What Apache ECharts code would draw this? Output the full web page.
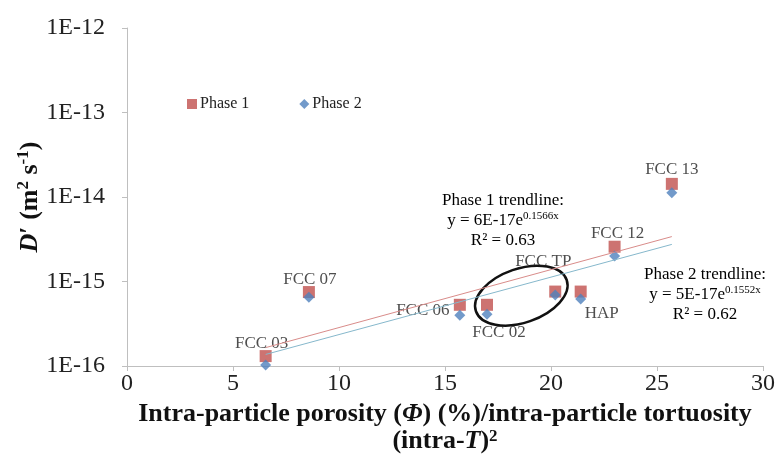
<!DOCTYPE html>
<html><head><meta charset="utf-8">
<script src="https://cdn.jsdelivr.net/npm/echarts@6/dist/echarts.min.js"></script>
<style>html,body{margin:0;padding:0;background:#fff}#c{width:778px;height:470px}</style>
</head><body><div id="c"></div>
<script>
// ---- data ----
const samples = ['FCC 03', 'FCC 07', 'FCC 06', 'FCC 02', 'FCC TP', 'HAP', 'FCC 12', 'FCC 13'];
const xValues = [6.54, 8.58, 15.7, 16.98, 20.2, 21.4, 23.0, 25.7];
const phase1 = [1.31e-16, 7.5e-16, 5.3e-16, 5.3e-16, 7.6e-16, 7.6e-16, 2.58e-15, 1.43e-14];
const phase2 = [1.03e-16, 6.5e-16, 4.0e-16, 4.1e-16, 6.9e-16, 6.2e-16, 2.0e-15, 1.12e-14];
const trend1X = [6.54, 25.7];
const trend1Y = [1.65e-16, 3.4e-15];
const trend2X = [6.54, 25.7];
const trend2Y = [1.37e-16, 2.75e-15];
const xTicks = [0, 5, 10, 15, 20, 25, 30];
const yTickLabels = ['1E-16', '1E-15', '1E-14', '1E-13', '1E-12'];
const seriesNames = ['Phase 1', 'Phase 2'];

// ---- styles ----
const FONT = '"Liberation Serif", "Times New Roman", serif';
const labelOffsets = {
  'FCC 03': [-4, -13], 'FCC 07': [1, -13], 'FCC 06': [-37, 6], 'FCC 02': [12, 28],
  'FCC TP': [-12, -30], 'HAP': [21, 22], 'FCC 12': [3, -13], 'FCC 13': [0, -14]
};

const chart = echarts.init(document.getElementById('c'));
const red = '#c0504d', blue = '#4f81bd';

const option = {
  animation: false,
  backgroundColor: '#fff',
  grid: { left: 127, right: 15, top: 28, bottom: 104 },
  legend: {
    left: 182, top: 91, itemWidth: 10, itemHeight: 10, itemGap: 50,
    textStyle: { fontFamily: FONT, fontSize: 16, color: '#222', padding: [0, 0, 0, -2] },
    data: [{ name: seriesNames[0], icon: 'rect' }, { name: seriesNames[1], icon: 'diamond' }]
  },
  xAxis: {
    type: 'value', min: xTicks[0], max: xTicks[xTicks.length - 1], interval: 5,
    axisLine: { lineStyle: { color: '#bfbfbf', width: 1 } },
    axisTick: { show: true, length: 5, lineStyle: { color: '#bfbfbf' } },
    splitLine: { show: false },
    axisLabel: { fontFamily: FONT, fontSize: 24, color: '#222', margin: 6 },
    name: '{b|Intra-particle porosity (}{bi|Φ}{b|) (%)/intra-particle tortuosity}\n{b|(intra-}{bi|T}{b|)}{sup|2}',
    nameLocation: 'middle', nameGap: 22,
    nameTextStyle: {
      fontFamily: FONT, fontSize: 26, fontWeight: 'bold', color: '#111', verticalAlign: 'top', lineHeight: 27,
      rich: {
        b: { fontFamily: FONT, fontSize: 26, fontWeight: 'bold', color: '#111', lineHeight: 27 },
        bi: { fontFamily: FONT, fontSize: 26, fontWeight: 'bold', fontStyle: 'italic', color: '#111', lineHeight: 27 },
        sup: { fontFamily: FONT, fontSize: 17, fontWeight: 'bold', color: '#111', verticalAlign: 'top', lineHeight: 27, padding: [0, 0, 8, 0] }
      }
    }
  },
  yAxis: {
    type: 'log', logBase: 10, min: 1e-16, max: 1e-12,
    axisLine: { show: true, lineStyle: { color: '#bfbfbf', width: 1 } },
    axisTick: { show: true, length: 5, lineStyle: { color: '#bfbfbf' } },
    splitLine: { show: false },
    minorTick: { show: false },
    axisLabel: {
      fontFamily: FONT, fontSize: 24, color: '#222', margin: 22,
      formatter: v => yTickLabels[Math.round(Math.log10(v)) + 16]
    }
  },
  series: [
    {
      name: 'Phase 1 trend', type: 'line', silent: true, symbol: 'none',
      lineStyle: { color: '#d98c8a', width: 1 },
      data: trend1X.map((x, i) => [x, trend1Y[i]])
    },
    {
      name: 'Phase 2 trend', type: 'line', silent: true, symbol: 'none',
      lineStyle: { color: '#86b8cc', width: 1 },
      data: trend2X.map((x, i) => [x, trend2Y[i]])
    },
    {
      name: seriesNames[0], type: 'scatter', symbol: 'rect', symbolSize: 12,
      itemStyle: { color: red },
      label: { show: true, position: 'inside', fontFamily: FONT, fontSize: 17, color: '#222',
               formatter: p => samples[p.dataIndex] },
      data: xValues.map((x, i) => ({ value: [x, phase1[i]], label: { offset: labelOffsets[samples[i]] } }))
    },
    {
      name: seriesNames[1], type: 'scatter', symbol: 'diamond', symbolSize: 11,
      itemStyle: { color: blue },
      data: xValues.map((x, i) => [x, phase2[i]])
    }
  ]
};
chart.setOption(option);

const richEq = {
  t: { fontFamily: FONT, fontSize: 17, color: '#222', lineHeight: 20 },
  sup: { fontFamily: FONT, fontSize: 11, color: '#222', verticalAlign: 'top', lineHeight: 20, padding: [0, 0, 6, 0] }
};
const c = chart.convertToPixel({ gridIndex: 0 }, [18.6, 6.8e-16]);
const mid = chart.convertToPixel({ gridIndex: 0 }, [0, 1e-14]);
chart.setOption({
  graphic: [
    {
      type: 'text', x: 30, y: mid[1], rotation: Math.PI / 2,
      style: {
        text: '{i|D}{b|′ (m}{sup|2}{b| s}{sup|-1}{b|)}', align: 'center', verticalAlign: 'middle',
        rich: {
          i: { fontFamily: FONT, fontSize: 26, fontWeight: 'bold', fontStyle: 'italic', fill: '#111', lineHeight: 30 },
          b: { fontFamily: FONT, fontSize: 26, fontWeight: 'bold', fill: '#111', lineHeight: 30 },
          sup: { fontFamily: FONT, fontSize: 17, fontWeight: 'bold', fill: '#111', verticalAlign: 'top', lineHeight: 30, padding: [0, 0, 9, 0] }
        }
      }
    },
    {
      type: 'text', x: 503, y: 191,
      style: { text: '{t|Phase 1 trendline:}\n{t|y = 6E-17e}{sup|0.1566x}\n{t|R² = 0.63}', align: 'center', rich: richEq }
    },
    {
      type: 'text', x: 705, y: 265,
      style: { text: '{t|Phase 2 trendline:}\n{t|y = 5E-17e}{sup|0.1552x}\n{t|R² = 0.62}', align: 'center', rich: richEq }
    },
    {
      type: 'ellipse', x: c[0], y: c[1], rotation: 19 * Math.PI / 180,
      shape: { cx: 0, cy: 0, rx: 48, ry: 27 },
      style: { fill: 'none', stroke: '#111', lineWidth: 2.5 }
    }
  ]
});
</script>
</body></html>
